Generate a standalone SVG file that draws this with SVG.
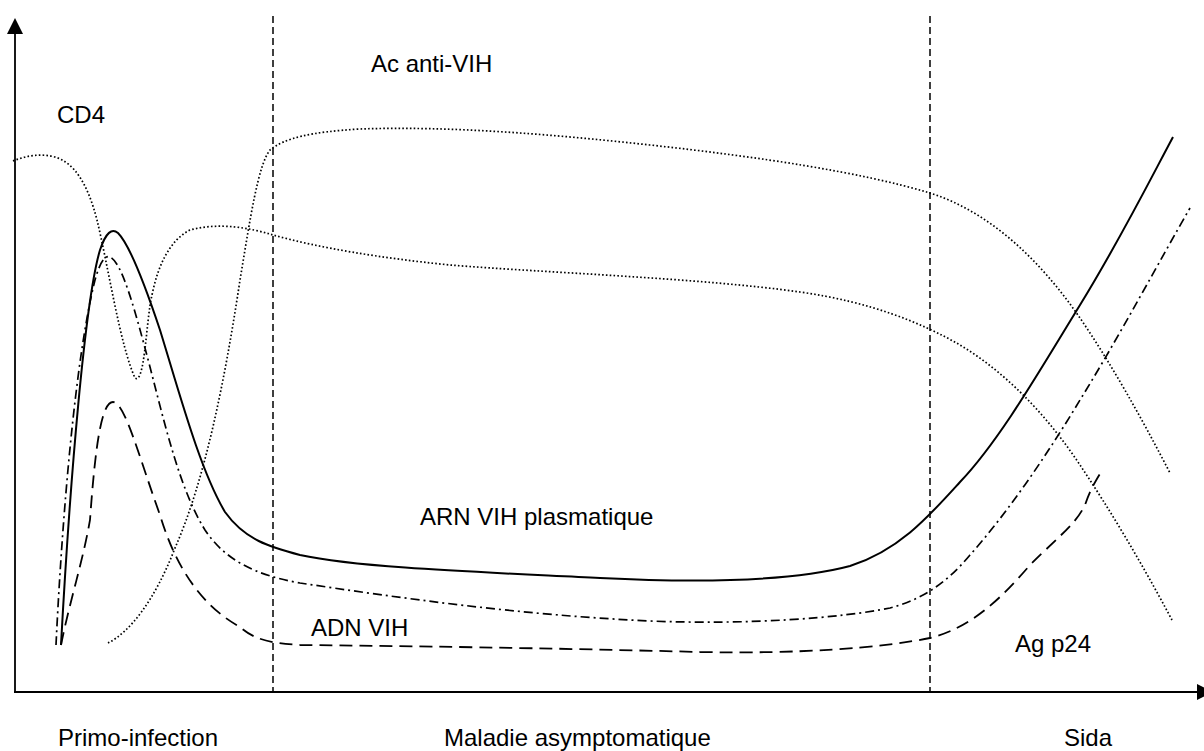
<svg xmlns="http://www.w3.org/2000/svg" width="1204" height="751" viewBox="0 0 1204 751">
<style>
text{font-family:"Liberation Sans",Arial,sans-serif;font-size:24px;fill:#000}
.c{fill:none;stroke:#000}
.head{fill:#000;stroke:none}
.axis{stroke-width:1.8}
.sep{stroke-width:1.5;stroke-dasharray:7 4}
.solid{stroke-width:2}
.dashdot{stroke-width:1.7;stroke-dasharray:9 4 2 4}
.dashed{stroke-width:1.8;stroke-dasharray:13 7}
.dotted{stroke-width:1.7;stroke-dasharray:1.6 2.2}
</style>
<g id="axes">
<line class="c axis" x1="15" y1="693" x2="15" y2="30"/>
<path class="head" d="M7,34 L15,18 L23,34 Z"/>
<line class="c axis" x1="14" y1="692" x2="1200" y2="692"/>
<path class="head" d="M1197,684 L1213,692 L1197,700 Z"/>
</g>
<g id="phases">
<line class="c sep" x1="273" y1="16" x2="273" y2="693"/>
<line class="c sep" x1="930" y1="16" x2="930" y2="693"/>
</g>
<g id="connectors">
<path id="cd4-curve" class="c dotted" d="M13,161 C25,156 40,153 55,157 C75,163 88,185 97,220 C108,265 120,345 135,378 C145,385 146,320 152,295 C158,265 170,240 190,230 C220,222 250,228 273,235 C320,248 380,258 450,265 C550,273 700,278 800,292 C870,302 920,322 960,345 C1010,375 1050,420 1080,465 C1110,510 1140,560 1172,620"/>
<path id="ac-curve" class="c dotted" d="M108,643 C130,632 155,600 175,548 C205,480 225,380 240,280 C250,220 258,165 270,150 C285,138 310,132 360,129 C450,126 550,134 650,145 C760,157 860,172 930,193 C990,212 1040,260 1080,318 C1110,362 1140,415 1170,473"/>
<path id="arn-curve" class="c solid" d="M61,645 C70,480 85,300 100,250 C106,232 112,228 118,233 C130,245 145,285 160,330 C180,395 200,470 225,512 C245,540 270,547 300,555 C360,568 480,572 600,578 C700,583 790,582 850,566 C900,550 930,515 960,482 C1000,440 1040,370 1080,305 C1120,240 1150,180 1173,137"/>
<path id="dashdot-curve" class="c dashdot" d="M56,645 C62,520 75,360 95,280 C100,262 105,255 110,257 C122,262 135,310 150,367 C165,425 180,490 205,530 C225,560 255,575 300,583 C400,598 520,615 650,621 C750,625 840,618 890,608 C920,600 945,585 970,555 C1010,510 1050,450 1080,400 C1120,335 1160,260 1190,208"/>
<path id="adn-curve" class="c dashed" d="M61,645 C70,600 82,565 90,520 C95,450 101,402 113,402 C125,402 140,460 160,515 C175,565 200,605 240,627 C255,640 270,643 300,645 C400,646 550,648 700,652 C800,654 880,648 930,638 C970,628 1000,600 1030,565 C1060,535 1075,525 1085,505 C1090,490 1095,482 1101,472"/>
</g>
<g id="labels">
<text id="cd4" x="57" y="123">CD4</text>
<text id="ac" x="371" y="72">Ac anti-VIH</text>
<text id="arn" x="420" y="525">ARN VIH plasmatique</text>
<text id="adn" x="311" y="636">ADN VIH</text>
<text id="ag" x="1015" y="652">Ag p24</text>
<text id="primo" x="58" y="746">Primo-infection</text>
<text id="maladie" x="444" y="746">Maladie asymptomatique</text>
<text id="sida" x="1064" y="746">Sida</text>
</g>
</svg>
